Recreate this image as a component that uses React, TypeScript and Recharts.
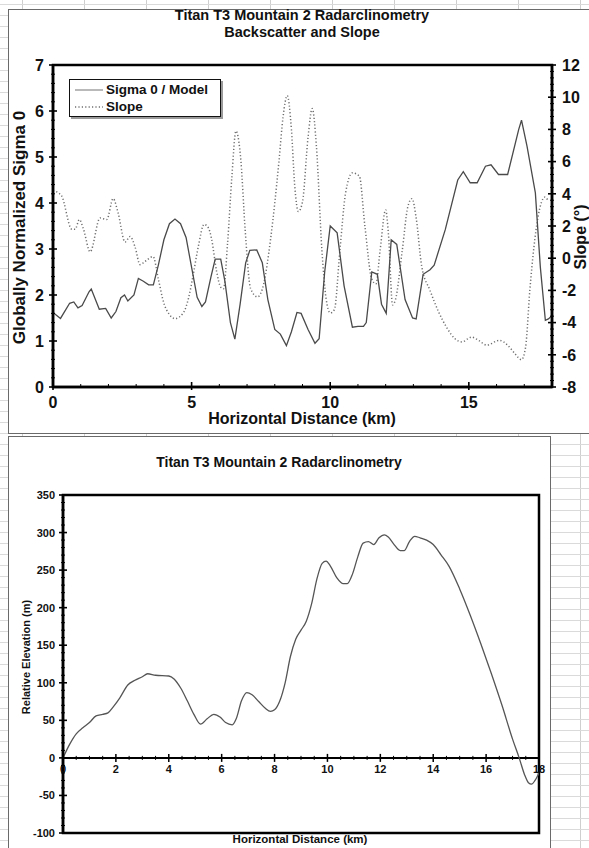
import React from 'react';
import { LineChart, Line, XAxis, YAxis, ReferenceArea, ReferenceDot, ReferenceLine } from 'recharts';

// top chart: backscatter (sigma 0 / model) and slope along the profile
const sigmaDist = [
  0, 0.27, 0.6, 0.75, 0.9, 1.05, 1.3, 1.38, 1.67, 1.9, 2.1, 2.27, 2.45, 2.58, 2.7, 2.92, 3.08, 3.26, 3.45, 3.62,
  3.8, 4.0, 4.2, 4.4, 4.6, 4.8, 5.0, 5.2, 5.37, 5.5, 5.7, 5.85, 6.05, 6.2, 6.4, 6.56, 6.75, 6.95, 7.1, 7.35,
  7.55, 7.75, 8.0, 8.2, 8.42, 8.6, 8.8, 8.95, 9.2, 9.45, 9.6, 9.8, 10.0, 10.25, 10.5, 10.8, 11.0, 11.2, 11.3, 11.5,
  11.7, 11.85, 12.02, 12.2, 12.4, 12.7, 12.97, 13.1, 13.35, 13.6, 13.75, 14.15, 14.6, 14.8, 15.05, 15.3, 15.6, 15.8, 16.07, 16.4,
  16.8, 16.9, 17.1, 17.4, 17.58, 17.76, 17.87, 18.0,
];
const sigmaValues = [
  1.62, 1.49, 1.82, 1.85, 1.72, 1.77, 2.07, 2.13, 1.69, 1.71, 1.5, 1.64, 1.94, 2.0, 1.87, 2.0, 2.36, 2.3, 2.22, 2.22,
  2.65, 3.2, 3.55, 3.65, 3.55, 3.25, 2.6, 1.95, 1.75, 1.85, 2.4, 2.78, 2.78, 2.3, 1.4, 1.04, 1.8, 2.7, 2.97, 2.98,
  2.7, 1.9, 1.25, 1.15, 0.9, 1.2, 1.62, 1.6, 1.25, 0.95, 1.05, 2.5, 3.5, 3.35, 2.2, 1.3, 1.32, 1.32, 1.4, 2.5,
  2.45, 1.8, 1.6, 3.2, 3.1, 1.9, 1.5, 1.48, 2.45, 2.55, 2.65, 3.42, 4.5, 4.68, 4.44, 4.44, 4.8, 4.83, 4.62, 4.62,
  5.6, 5.8, 5.23, 4.22, 2.6, 1.45, 1.48, 1.55,
];

const slopeDist = [
  0, 0.3, 0.68, 0.8, 0.95, 1.1, 1.34, 1.7, 1.94, 2.17, 2.35, 2.6, 2.78, 2.96, 3.14, 3.32, 3.61, 3.8, 4.0, 4.2,
  4.4, 4.7, 4.9, 5.05, 5.25, 5.45, 5.6, 5.72, 5.9, 6.05, 6.15, 6.3, 6.45, 6.6, 6.78, 6.93, 7.13, 7.38, 7.6, 7.85,
  8.15, 8.3, 8.45, 8.6, 8.72, 8.85, 9.0, 9.2, 9.35, 9.5, 9.7, 9.85, 10.0, 10.15, 10.35, 10.55, 10.8, 11.05, 11.25, 11.5,
  11.65, 11.8, 12.0, 12.1, 12.25, 12.35, 12.6, 12.8, 12.95, 13.1, 13.3, 13.6, 13.9, 14.2, 14.5, 14.75, 15.1, 15.35, 15.65, 16.1,
  16.4, 16.65, 16.9, 17.05, 17.2, 17.5, 17.75, 17.85,
];
const slopeValues = [
  4.2, 3.9, 1.8, 1.8, 2.4, 1.8, 0.4, 2.5, 2.4, 3.7, 2.8, 1.0, 1.35, 0.7, -0.4, -0.2, 0.1, -1.3, -2.8, -3.5,
  -3.75, -3.4, -2.4, -1.1, 0.8, 2.1, 1.9, 1.2, -0.8, -1.8, -1.9, 1.0, 5.0, 7.9, 6.0, 1.8, -1.9, -2.4, -1.6, 1.2,
  6.0, 8.8, 10.1, 8.0, 4.5, 2.9, 3.5, 7.5, 9.3, 7.0, 0.5, -2.5, -3.4, -3.2, 0.5, 4.0, 5.3, 5.1, 2.0, -1.3,
  -1.6, 0.5, 3.0, 1.5, -2.9, -2.6, 0.5, 3.2, 3.7, 2.5, -0.5, -2.0, -3.3, -4.3, -5.0, -5.2, -4.9, -5.1, -5.4, -5.1,
  -5.4, -5.9, -6.3, -5.5, -2.0, 2.6, 3.8, 3.6,
];

// bottom chart: relative elevation profile
const elevDist = [
  0, 0.25, 0.5, 0.75, 1.0, 1.25, 1.5, 1.7, 1.9, 2.15, 2.45, 2.7, 3.0, 3.2, 3.5, 4.0, 4.2, 4.45, 4.7, 4.95,
  5.2, 5.45, 5.7, 5.95, 6.15, 6.4, 6.55, 6.75, 6.95, 7.15, 7.4, 7.65, 7.85, 8.0, 8.2, 8.4, 8.6, 8.8, 9.0, 9.2,
  9.4, 9.6, 9.8, 9.95, 10.1, 10.35, 10.6, 10.75, 10.95, 11.15, 11.35, 11.55, 11.75, 11.95, 12.15, 12.3, 12.5, 12.75, 12.9, 13.1,
  13.3, 13.5, 13.75, 14.0, 14.3, 14.6, 15.0, 15.4, 15.8, 16.2, 16.6, 17.0, 17.25, 17.45, 17.6, 17.72, 17.85, 18.0,
];
const elevValues = [
  0, 18, 32, 40, 47, 56, 58, 60, 68, 80, 97, 103, 108, 112, 110, 109, 105, 93, 76, 58,
  45, 52, 58, 54, 47, 44, 52, 76, 87, 84, 75, 66, 62, 64, 76, 100, 135, 158, 170, 182,
  205, 238, 259, 262, 256, 240, 232, 232, 245, 268, 286, 288, 284, 293, 297, 294, 285, 276, 276, 288,
  295, 293, 290, 284, 270, 255, 225, 190, 152, 112, 70, 25, 0, -22, -33, -35, -30, -20,
];

const sigmaLabels = [0, 1, 2, 3, 4, 5, 6, 7];
const slopeLabels = [-8, -6, -4, -2, 0, 2, 4, 6, 8, 10, 12];
const topDistLabels = [0, 5, 10, 15];
const elevLabels = [-100, -50, 0, 50, 100, 150, 200, 250, 300, 350];
const elevDistLabels = [0, 2, 4, 6, 8, 10, 12, 14, 16, 18];

const sigmaData = sigmaDist.map((x, i) => ({ x, v: sigmaValues[i] }));
const slopeData = slopeDist.map((x, i) => ({ x, v: slopeValues[i] }));
const elevData = elevDist.map((x, i) => ({ x, v: elevValues[i] }));

const FONT = '"Liberation Sans", Arial, Helvetica, sans-serif';

// major + minor tick positions
const steps = (from: number, to: number, step: number) => {
  const out: number[] = [];
  for (let v = from; v <= to + 1e-9; v += step) out.push(Math.round(v * 1000) / 1000);
  return out;
};
const isIn = (list: number[], v: number) => list.some(m => Math.abs(m - v) < 1e-6);

const makeYTick = (side: 'left' | 'right', labels: number[], fontSize: number, gap: number) => (props: any) => {
  const { x, y, payload } = props;
  const v = payload.value;
  const major = isIn(labels, v);
  const dir = side === 'left' ? -1 : 1;
  return (
    <g>
      <line x1={x - (major ? 4 : 2)} x2={x + (major ? 4 : 2)} y1={y} y2={y} stroke="#000" strokeWidth={major ? 1.6 : 1} />
      {major && (
        <text x={x + dir * gap} y={y} dy="0.36em" textAnchor={side === 'left' ? 'end' : 'start'}
          fontFamily={FONT} fontWeight="bold" fontSize={fontSize} fill="#111">{v}</text>
      )}
    </g>
  );
};

const TopXTick = (props: any) => {
  const { x, y, payload } = props;
  const v = payload.value;
  const major = isIn(topDistLabels, v);
  return (
    <g>
      <line x1={x} x2={x} y1={y - (major ? 5 : 3)} y2={y + (major ? 3 : 0)} stroke="#000" strokeWidth={major ? 1.6 : 1} />
      {major && (
        <text x={x} y={y + 9} dy="0.75em" textAnchor="middle" fontFamily={FONT} fontWeight="bold" fontSize={16} fill="#111">{v}</text>
      )}
    </g>
  );
};

// x ticks of the elevation chart sit on the zero line
const ZeroTick = (value: number) => (p: any) => {
  const major = isIn(elevDistLabels, value);
  return (
    <g>
      <line x1={p.cx} x2={p.cx} y1={p.cy - (major ? 4 : 2)} y2={p.cy + (major ? 4 : 2)} stroke="#000" strokeWidth={major ? 1.5 : 1} />
      {major && (
        <text x={p.cx} y={p.cy + 7} dy="0.75em" textAnchor="middle" fontFamily={FONT} fontWeight="bold" fontSize={11} fill="#111">{value}</text>
      )}
    </g>
  );
};

const Text = ({ cx, cy, size, children, rotate, lh }: { cx: number; cy: number; size: number; children: React.ReactNode; rotate?: boolean; lh?: number }) => {
  const h = lh ?? Math.ceil(size * 1.2);
  return (
    <div style={{
      position: 'absolute', left: cx - 200, top: cy - h / 2, width: 400, height: h, lineHeight: `${h}px`,
      textAlign: 'center', fontFamily: FONT, fontWeight: 'bold', fontSize: size, color: '#111', whiteSpace: 'nowrap',
      transform: rotate ? 'rotate(-90deg)' : undefined,
    }}>{children}</div>
  );
};

const axisStyle = { stroke: '#000', strokeWidth: 2.5 };

export default function App() {
  return (
    <div style={{
      position: 'absolute', left: 0, top: 0, width: 589, height: 848, overflow: 'hidden', background: '#fff',
      backgroundImage: 'linear-gradient(#dadada 1px, transparent 1px), linear-gradient(90deg, #cfcfcf 1px, transparent 1px)',
      backgroundSize: '100% 11px, 62px 100%', backgroundPosition: '0 4px, 22px 0',
    }}>
      {/* top chart frame */}
      <div style={{ position: 'absolute', left: 8, top: 9, width: 600, height: 423, border: '1px solid #6a6a6a', background: '#fff' }} />
      {/* bottom chart frame */}
      <div style={{ position: 'absolute', left: 8, top: 436, width: 541, height: 440, border: '1px solid #6a6a6a', background: '#fff' }} />

      <div style={{ position: 'absolute', left: 0, top: 0 }}>
        <LineChart width={589} height={433} margin={{ top: 65, right: 0, bottom: 0, left: 8 }}>
          <XAxis dataKey="x" type="number" domain={[0, 18]} ticks={steps(0, 18, 1)} interval={0} height={46}
            tickSize={0} tickMargin={0} tickLine={false} axisLine={axisStyle} tick={TopXTick} allowDataOverflow />
          <YAxis yAxisId="left" orientation="left" width={45} domain={[0, 7]} ticks={steps(0, 7, 0.2)} interval={0}
            tickSize={0} tickMargin={0} tickLine={false} axisLine={axisStyle} tick={makeYTick('left', sigmaLabels, 16, 9)} allowDataOverflow />
          <YAxis yAxisId="right" orientation="right" width={37} domain={[-8, 12]} ticks={steps(-8, 12, 0.4)} interval={0}
            tickSize={0} tickMargin={0} tickLine={false} axisLine={axisStyle} tick={makeYTick('right', slopeLabels, 16, 10)} allowDataOverflow />
          <ReferenceArea yAxisId="left" x1={0} x2={18} y1={0} y2={7} fill="none" stroke="#000" strokeWidth={2.5} />
          <Line yAxisId="right" data={slopeData} dataKey="v" type="monotone" stroke="#6f6f6f" strokeWidth={1.5}
            strokeDasharray="1.2 2.2" dot={false} isAnimationActive={false} />
          <Line yAxisId="left" data={sigmaData} dataKey="v" type="linear" stroke="#4a4a4a" strokeWidth={1.3}
            dot={false} isAnimationActive={false} />
        </LineChart>
      </div>

      {/* two-line title */}
      <div style={{
        position: 'absolute', left: 102, top: 7, width: 400, textAlign: 'center', fontFamily: FONT, fontWeight: 'bold',
        fontSize: 14.5, lineHeight: '16.5px', color: '#111',
      }}>
        <div>Titan T3 Mountain 2 Radarclinometry</div>
        <div>Backscatter and Slope</div>
      </div>
      <Text cx={19} cy={227} size={17} rotate>Globally Normalized Sigma 0</Text>
      <Text cx={581} cy={237} size={16} rotate>Slope (°)</Text>
      <Text cx={302} cy={419} size={16}>Horizontal Distance (km)</Text>

      {/* legend */}
      <div style={{
        position: 'absolute', left: 69, top: 79, width: 150, height: 36, border: '1.5px solid #111',
        boxShadow: '2px 2px 0 #9a9a9a', background: '#fff', fontFamily: FONT, fontWeight: 'bold', fontSize: 13.5,
        color: '#111', whiteSpace: 'nowrap',
      }}>
        <div style={{ position: 'absolute', left: 5, top: 1, height: 17, display: 'flex', alignItems: 'center' }}>
          <svg width={28} height={4}><line x1={0} x2={28} y1={2} y2={2} stroke="#a8a8a8" strokeWidth={1.6} /></svg>
          <span style={{ marginLeft: 3 }}>Sigma 0 / Model</span>
        </div>
        <div style={{ position: 'absolute', left: 5, top: 18, height: 17, display: 'flex', alignItems: 'center' }}>
          <svg width={28} height={4}><line x1={0} x2={28} y1={2} y2={2} stroke="#6f6f6f" strokeWidth={1.5} strokeDasharray="1.2 2.2" /></svg>
          <span style={{ marginLeft: 3 }}>Slope</span>
        </div>
      </div>

      <div style={{ position: 'absolute', left: 0, top: 436 }}>
        <LineChart width={589} height={412} margin={{ top: 59, right: 50, bottom: 15, left: 8 }}>
          <XAxis dataKey="x" type="number" domain={[0, 18]} hide allowDataOverflow />
          <YAxis width={55} domain={[-100, 350]} ticks={steps(-100, 350, 10)} interval={0}
            tickSize={0} tickMargin={0} tickLine={false} axisLine={axisStyle} tick={makeYTick('left', elevLabels, 11, 8)} allowDataOverflow />
          <ReferenceArea x1={0} x2={18} y1={-100} y2={350} fill="none" stroke="#000" strokeWidth={2.5} />
          <ReferenceLine y={0} stroke="#000" strokeWidth={2} />
          {steps(0, 18, 0.5).map(v => (
            <ReferenceDot key={v} x={v} y={0} r={0} shape={ZeroTick(v)} />
          ))}
          <Line data={elevData} dataKey="v" type="monotone" stroke="#555" strokeWidth={1.3}
            dot={false} isAnimationActive={false} />
        </LineChart>
      </div>

      <Text cx={279} cy={462} size={14}>Titan T3 Mountain 2 Radarclinometry</Text>
      <Text cx={26} cy={657} size={11} rotate>Relative Elevation (m)</Text>
      <Text cx={300} cy={839} size={11.5}>Horizontal Distance (km)</Text>
    </div>
  );
}
